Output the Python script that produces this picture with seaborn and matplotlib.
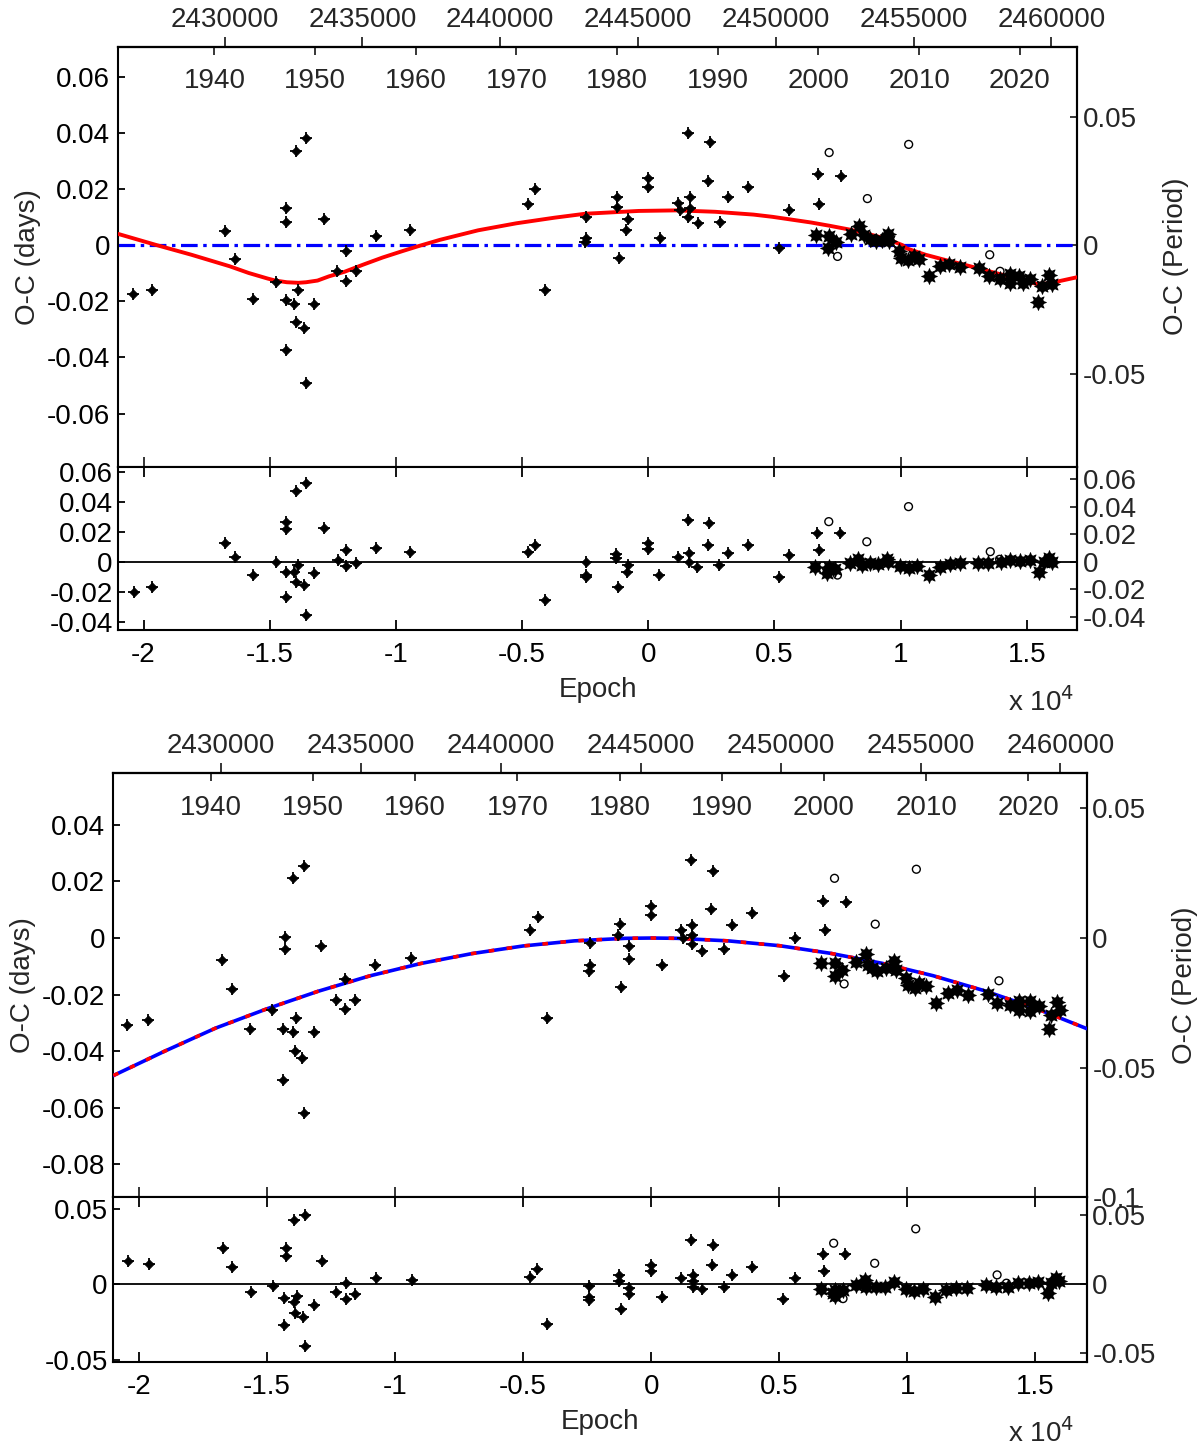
import numpy as np
import pandas as pd
import matplotlib
matplotlib.use("Agg")
import matplotlib.pyplot as plt
import seaborn as sns
from matplotlib.ticker import FuncFormatter, FixedLocator

# ---------------- ephemeris used for the secondary axes ----------------
T0 = 2445370.0
PER = 0.9157

# ---------------- TOP PANEL : O-C with LTTE fit ----------------
top_dia_E = [-20409, -19667, -16773, -16379, -15667, -14742, -14348, -14348, -14348, -14348,
             -13970, -13561, -13879, -14030, -13970, -13636, -13561, -13242, -12833, -12318,
             -11970, -11970, -11591, -10803, -9424, -4773, -4500, -4091, -2470, -2470, -2500,
             -1258, -1258, -1167, -803, -864, 0, 0, 455, 1182, 1258, 1591, 1636, 1636, 1591,
             1985, 2379, 2439, 2833, 3167, 3955, 5197, 5591, 6712, 6773, 7621]
top_dia_v = [-0.0173, -0.0161, 0.0051, -0.0049, -0.0191, -0.0132, 0.0131, 0.0083, -0.0196, -0.0373,
             0.0336, 0.0382, -0.0161, -0.0208, -0.0273, -0.0296, -0.0490, -0.0208, 0.0095, -0.0091,
             -0.0020, -0.0126, -0.0091, 0.0031, 0.0054, 0.0148, 0.0201, -0.0161, 0.0101, 0.0025, 0.0011,
             0.0172, 0.0136, -0.0044, 0.0095, 0.0055, 0.0239, 0.0207, 0.0027, 0.0151, 0.0125, 0.0401,
             0.0172, 0.0133, 0.0101, 0.0079, 0.0230, 0.0366, 0.0083, 0.0173, 0.0207, -0.0011, 0.0125,
             0.0254, 0.0148, 0.0248]
top_circ_E = [7167, 7500, 8682, 10318, 13530, 13939]
top_circ_v = [0.0330, -0.0040, 0.0166, 0.0359, -0.0034, -0.0093]
top_ccd_E = [6636, 7167, 7121, 7424, 8030, 8348, 8561, 8788, 9015, 9242, 9500, 9545, 9924, 10000,
             10303, 10530, 10727, 11106, 11561, 11924, 12348, 13106, 13485, 13939, 14318, 14318,
             14697, 14848, 15106, 15455, 15606, 15864, 15985]
top_ccd_v = [0.0036, 0.0031, -0.0011, 0.0011, 0.0040, 0.0069, 0.0036, 0.0022, 0.0015, 0.0019, 0.0040,
             0.0015, -0.0020, -0.0044, -0.0052, -0.0040, -0.0049, -0.0111, -0.0075, -0.0066, -0.0079,
             -0.0081, -0.0111, -0.0119, -0.0102, -0.0134, -0.0111, -0.0134, -0.0122, -0.0202, -0.0146,
             -0.0107, -0.0138]
top_fit_E = [-21000, -19470, -18106, -16590, -15833, -15076, -14773, -14318, -13864, -13561,
             -13106, -12652, -12045, -11288, -10530, -9773, -9167, -8258, -7500, -6742, -5227,
             -3712, -2500, -379, 1136, 2652, 4167, 4924, 6439, 7197, 7955, 8712, 9470, 10075,
             10227, 10985, 11742, 12500, 13258, 14015, 14773, 15379, 15985, 16288, 17000]
top_fit_v = [0.0040, 0.0000, -0.0034, -0.0075, -0.0099, -0.0119, -0.0126, -0.0132, -0.0134, -0.0132,
             -0.0126, -0.0111, -0.0095, -0.0069, -0.0044, -0.0022, -0.0005, 0.0019, 0.0036, 0.0053,
             0.0078, 0.0098, 0.0112, 0.0122, 0.0124, 0.0119, 0.0109, 0.0101, 0.0081, 0.0069, 0.0056,
             0.0040, 0.0022, 0.0000, -0.0011, -0.0034, -0.0052, -0.0069, -0.0087, -0.0105, -0.0122,
             -0.0138, -0.0136, -0.0128, -0.0114]

# top residuals
topr_dia_E = [-20396, -19670, -16782, -16373, -15674, -14750, -14355, -14355, -14355, -14355,
              -14025, -13959, -13563, -13893, -13959, -13629, -13563, -13233, -12838, -12310,
              -11980, -11980, -11585, -10807, -9422, -4766, -4502, -4107, -2457, -2457, -2470,
              -1282, -1282, -1190, -859, -793, -26, -26, 436, 1190, 1560, 1626, 1626, 1943,
              2353, 2419, 2816, 3146, 3940, 5169, 5579, 6703, 6755, 7615]
topr_dia_v = [-0.0200, -0.0167, 0.0122, 0.0033, -0.0089, 0.0000, 0.0267, 0.0218, -0.0067, -0.0233,
              -0.0067, 0.0473, 0.0522, -0.0022, -0.0133, -0.0156, -0.0356, -0.0078, 0.0222, 0.0011,
              0.0078, -0.0027, -0.0011, 0.0089, 0.0067, 0.0067, 0.0111, -0.0256, 0.0000, -0.0100, -0.0089,
              0.0051, 0.0022, -0.0167, -0.0067, -0.0022, 0.0122, 0.0082, -0.0089, 0.0029, 0.0278,
              0.0056, -0.0004, -0.0033, 0.0111, 0.0256, -0.0022, 0.0056, 0.0111, -0.0100, 0.0044,
              0.0189, 0.0078, 0.0189]
topr_circ_E = [7152, 7496, 8659, 10312, 13551, 13921]
topr_circ_v = [0.0267, -0.0089, 0.0133, 0.0367, 0.0067, 0.0016]
topr_ccd_E = [6623, 7073, 7152, 7403, 7998, 8329, 8461, 8791, 9122, 9452, 9500, 9981, 10312, 10642,
              11105, 11568, 11938, 12361, 13049, 13446, 13974, 14344, 14740, 15110, 15467, 15665,
              15864, 15996]
topr_ccd_v = [-0.0033, -0.0078, -0.0038, -0.0051, -0.0011, 0.0016, -0.0022, -0.0011, -0.0016, 0.0016,
              0.0000, -0.0029, -0.0044, -0.0029, -0.0089, -0.0038, -0.0016, -0.0007, -0.0007, -0.0011,
              0.0000, 0.0011, 0.0007, 0.0011, -0.0067, 0.0000, 0.0022, 0.0000]

# ---------------- BOTTOM PANEL : O-C with quadratic fit ----------------
bot_dia_E = [-20450, -19655, -16760, -16385, -15650, -14795, -14300, -14300, -14360, -14360,
             -14000, -13550, -13880, -13985, -13925, -13625, -13550, -13175, -12875, -12320,
             -11960, -11960, -11570, -10775, -9365, -4730, -4430, -4055, -2405, -2405, -2440,
             -1230, -1305, -1170, -855, -855, 0, 0, 435, 1170, 1245, 1545, 1605, 1605, 1605,
             1965, 2340, 2400, 2835, 3150, 3945, 5175, 5610, 6720, 6795, 7590]
bot_dia_v = [-0.0306, -0.0289, -0.0079, -0.0179, -0.0323, -0.0255, 0.0005, -0.0039, -0.0323, -0.0500,
             0.0211, 0.0255, -0.0283, -0.0333, -0.0400, -0.0423, -0.0617, -0.0333, -0.0029, -0.0218,
             -0.0143, -0.0250, -0.0218, -0.0095, -0.0072, 0.0027, 0.0076, -0.0283, -0.0018, -0.0094, -0.0118,
             0.0049, 0.0011, -0.0172, -0.0029, -0.0073, 0.0112, 0.0082, -0.0095, 0.0027, 0.0000, 0.0276,
             0.0045, 0.0012, -0.0021, -0.0045, 0.0103, 0.0238, -0.0039, 0.0045, 0.0088, -0.0134, 0.0000,
             0.0132, 0.0027, 0.0127]
bot_circ_E = [7155, 7530, 8745, 10350, 13575]
bot_circ_v = [0.0211, -0.0162, 0.0049, 0.0243, -0.0151]
bot_ccd_E = [6645, 7155, 7155, 7455, 7995, 8370, 8475, 8625, 8805, 9150, 9495, 9555, 9945, 10020,
             10305, 10470, 10725, 11100, 11595, 11925, 12375, 13155, 13500, 14000, 14355, 14355,
             14775, 14775, 15150, 15525, 15600, 15825, 15975]
bot_ccd_v = [-0.0088, -0.0088, -0.0135, -0.0112, -0.0085, -0.0055, -0.0094, -0.0106, -0.0115, -0.0106,
             -0.0082, -0.0112, -0.0141, -0.0165, -0.0176, -0.0159, -0.0171, -0.0229, -0.0194, -0.0182,
             -0.0200, -0.0198, -0.0229, -0.0235, -0.0221, -0.0256, -0.0223, -0.0259, -0.0241, -0.0323,
             -0.0273, -0.0226, -0.0256]
bot_fit_E = [-21000, -19000, -17000, -15000, -13000, -11000, -9000, -7000, -5000, -3000, -1000, 0,
             1000, 3000, 5000, 7000, 9000, 11000, 13000, 15000, 17000]
bot_fit_v = [-0.0486, -0.0400, -0.0318, -0.0250, -0.0188, -0.0134, -0.0090, -0.0055, -0.0028, -0.0010,
             -0.0001, 0.0000, -0.0001, -0.0010, -0.0027, -0.0054, -0.0089, -0.0133, -0.0186, -0.0248,
             -0.0320]

# bottom residuals
botr_dia_E = [-20416, -19610, -16722, -16357, -15629, -14757, -14276, -14276, -14328, -14328,
              -13951, -13521, -13846, -13951, -13911, -13586, -13534, -13157, -12845, -12311,
              -11934, -11934, -11570, -10763, -9358, -4752, -4440, -4076, -2437, -2437, -2420,
              -1263, -1263, -1172, -872, -872, -26, -26, 430, 1172, 1536, 1628, 1628, 1628, 1979,
              2357, 2396, 2825, 3138, 3932, 5143, 5599, 6705, 6757, 7565]
botr_dia_v = [0.0157, 0.0135, 0.0238, 0.0113, -0.0053, -0.0011, 0.0238, 0.0188, -0.0093, -0.0269,
              0.0426, 0.0459, -0.0075, -0.0115, -0.0188, -0.0219, -0.0406, -0.0137, 0.0157, -0.0053,
              0.0011, -0.0095, -0.0064, 0.0042, 0.0029, 0.0051, 0.0104, -0.0263, -0.0009, -0.0104, -0.0086,
              0.0062, 0.0024, -0.0166, -0.0022, -0.0064, 0.0128, 0.0091, -0.0086, 0.0040, 0.0294, 0.0062,
              0.0024, -0.0015, -0.0033, 0.0126, 0.0261, -0.0020, 0.0062, 0.0115, -0.0095, 0.0042, 0.0199,
              0.0086, 0.0199]
botr_circ_E = [7122, 7487, 8723, 10325, 13502, 13866]
botr_circ_v = [0.0272, -0.0095, 0.0139, 0.0367, 0.0062, 0.0007]
botr_ccd_E = [6614, 7096, 7161, 7161, 7487, 7981, 8333, 8398, 8762, 9114, 9466, 9960, 10247, 10611,
              11067, 11523, 11887, 12343, 13085, 13450, 13932, 14322, 14752, 15104, 15495, 15624,
              15820, 15924]
botr_ccd_v = [-0.0033, -0.0060, -0.0038, -0.0077, -0.0038, -0.0004, 0.0029, -0.0020, -0.0015, -0.0020,
              0.0018, -0.0033, -0.0044, -0.0033, -0.0086, -0.0038, -0.0026, -0.0022, -0.0004, -0.0020,
              -0.0020, 0.0007, 0.0007, 0.0018, -0.0055, 0.0007, 0.0040, 0.0024]

# ---------------- tick values ----------------
epoch_ticks = [-20000, -15000, -10000, -5000, 0, 5000, 10000, 15000]
jd_ticks = [2430000, 2435000, 2440000, 2445000, 2450000, 2455000, 2460000]
year_ticks = [1940, 1950, 1960, 1970, 1980, 1990, 2000, 2010, 2020]

# ---------------- style ----------------
sns.set_theme(style="white")
plt.rcParams["font.family"] = ["Liberation Sans", "DejaVu Sans"]
plt.rcParams["axes.unicode_minus"] = False
plt.rcParams["axes.linewidth"] = 1.5
plt.rcParams["axes.edgecolor"] = "black"
plt.rcParams["lines.scale_dashes"] = False
FS = 20

fig = plt.figure(figsize=(12, 14.49), dpi=100)
W, H = 1200.0, 1449.0


def box(l, t, r, b):
    return [l / W, 1 - b / H, (r - l) / W, (b - t) / H]


def e2jd(e):
    return T0 + PER * np.asarray(e, dtype=float)


def jd2e(j):
    return (np.asarray(j, dtype=float) - T0) / PER


def e2yr(e):
    return 2000.0 + (T0 + PER * np.asarray(e, dtype=float) - 2451545.0) / 365.25


def yr2e(y):
    return ((np.asarray(y, dtype=float) - 2000.0) * 365.25 + 2451545.0 - T0) / PER


def d2p(v):
    return np.asarray(v, dtype=float) / PER


def p2d(v):
    return np.asarray(v, dtype=float) * PER


gfmt = FuncFormatter(lambda v, p: ("%g" % round(v, 4)))


def draw_points(ax, dE, dv, cE, cv, sE, sv):
    sns.scatterplot(x=dE, y=dv, ax=ax, marker="D", s=22, color="black", edgecolor="black",
                    linewidth=0.5, zorder=5)
    sns.scatterplot(x=dE, y=dv, ax=ax, marker="+", s=70, color="black", linewidth=1.3, zorder=5)
    sns.scatterplot(x=cE, y=cv, ax=ax, marker="o", s=32, facecolor="none", edgecolor="black",
                    linewidth=1.0, zorder=5)
    sns.scatterplot(x=sE, y=sv, ax=ax, marker=(8, 1, 0), s=130, color="black", edgecolor="black",
                    linewidth=0.6, zorder=6)
    sns.scatterplot(x=sE, y=sv, ax=ax, marker="o", s=55, color="black", edgecolor="black",
                    linewidth=0.5, zorder=6)


def style_main(ax, ylim, yticks, rticks):
    ax.set_xlim(-21000, 17000)
    ax.set_ylim(*ylim)
    ax.set_yticks(yticks)
    ax.yaxis.set_major_formatter(gfmt)
    ax.xaxis.set_major_locator(FixedLocator(epoch_ticks))
    ax.tick_params(axis="x", which="both", direction="in", bottom=True, top=False,
                   labelbottom=False, length=7, width=1.3)
    ax.tick_params(axis="y", which="both", direction="in", left=True, right=False,
                   length=5, width=1.3, labelsize=FS, pad=6, colors="black")
    ax.set_ylabel("O-C (days)", fontsize=FS, labelpad=4)
    ax.set_xlabel("")
    for s in ax.spines.values():
        s.set_linewidth(1.5)
        s.set_color("black")
    # right period axis
    ra = ax.secondary_yaxis("right", functions=(d2p, p2d))
    ra.set_yticks(rticks)
    ra.yaxis.set_major_formatter(gfmt)
    ra.tick_params(direction="in", length=5, width=1.3, labelsize=FS, pad=4)
    ra.set_ylabel("O-C (Period)", fontsize=FS, labelpad=12)
    ra.spines["right"].set_linewidth(1.5)
    # top JD axis
    ja = ax.secondary_xaxis("top", functions=(e2jd, jd2e))
    ja.xaxis.set_major_locator(FixedLocator(jd_ticks))
    ja.xaxis.set_major_formatter(FuncFormatter(lambda v, p: "%d" % round(v)))
    ja.tick_params(direction="out", length=7, width=1.3, labelsize=FS, pad=3)
    ja.spines["top"].set_linewidth(1.5)
    # year axis (inside)
    ya = ax.secondary_xaxis("top", functions=(e2yr, yr2e))
    ya.xaxis.set_major_locator(FixedLocator(year_ticks))
    ya.xaxis.set_major_formatter(FuncFormatter(lambda v, p: "%d" % round(v)))
    ya.tick_params(direction="in", length=6, width=1.3, labelsize=FS, pad=-34)
    ya.spines["top"].set_linewidth(1.5)


def style_res(ax, ylim, yticks, rticks, off_y):
    ax.set_xlim(-21000, 17000)
    ax.set_ylim(*ylim)
    ax.set_yticks(yticks)
    ax.yaxis.set_major_formatter(gfmt)
    ax.xaxis.set_major_locator(FixedLocator(epoch_ticks))
    ax.xaxis.set_major_formatter(FuncFormatter(lambda v, p: "%g" % (v / 1e4)))
    ax.tick_params(axis="x", which="both", direction="in", bottom=True, top=True,
                   length=7, width=1.3, labelsize=FS, pad=9, colors="black")
    ax.tick_params(axis="y", which="both", direction="in", left=True, right=False,
                   length=5, width=1.3, labelsize=FS, pad=4, colors="black")
    ax.set_xlabel("Epoch", fontsize=FS, labelpad=6)
    ax.set_ylabel("")
    for s in ax.spines.values():
        s.set_linewidth(1.5)
        s.set_color("black")
    ra = ax.secondary_yaxis("right", functions=(d2p, p2d))
    ra.set_yticks(rticks)
    ra.yaxis.set_major_formatter(gfmt)
    ra.tick_params(direction="in", length=5, width=1.3, labelsize=FS, pad=4)
    ra.spines["right"].set_linewidth(1.5)
    fig.text(1008 / W, 1 - off_y / H, r"x 10$^{4}$", fontsize=FS, ha="left", va="center")


# ================= TOP PANEL =================
ax1 = fig.add_axes(box(118.3, 46.7, 1077.3, 466.7))
ax1.axhline(0, color=(0, 0, 1), lw=2.3, ls=(0, (12, 4, 2.5, 4)), zorder=2)
sns.lineplot(x=top_fit_E, y=top_fit_v, ax=ax1, color=(1, 0, 0), lw=2.8, sort=False,
             estimator=None, zorder=3)
draw_points(ax1, top_dia_E, top_dia_v, top_circ_E, top_circ_v, top_ccd_E, top_ccd_v)
style_main(ax1, (-0.0789, 0.0707), [-0.06, -0.04, -0.02, 0, 0.02, 0.04, 0.06], [-0.05, 0, 0.05])

ax2 = fig.add_axes(box(118.3, 466.7, 1077.3, 630.0))
ax2.axhline(0, color="black", lw=1.3, zorder=2)
draw_points(ax2, topr_dia_E, topr_dia_v, topr_circ_E, topr_circ_v, topr_ccd_E, topr_ccd_v)
style_res(ax2, (-0.0455, 0.0633), [-0.04, -0.02, 0, 0.02, 0.04, 0.06],
          [-0.04, -0.02, 0, 0.02, 0.04, 0.06], 702)

# ================= BOTTOM PANEL =================
ax3 = fig.add_axes(box(113.3, 773.3, 1086.7, 1197.3))
sns.lineplot(x=bot_fit_E, y=bot_fit_v, ax=ax3, color=(0, 0, 1), lw=2.6, sort=False,
             estimator=None, zorder=3)
sns.lineplot(x=bot_fit_E, y=bot_fit_v, ax=ax3, color=(1, 0, 0), lw=2.6, sort=False,
             estimator=None, zorder=3, dashes=False, linestyle=(0, (4, 9)))
draw_points(ax3, bot_dia_E, bot_dia_v, bot_circ_E, bot_circ_v, bot_ccd_E, bot_ccd_v)
style_main(ax3, (-0.0916, 0.0582), [-0.08, -0.06, -0.04, -0.02, 0, 0.02, 0.04],
           [-0.1, -0.05, 0, 0.05])

ax4 = fig.add_axes(box(113.3, 1197.3, 1086.7, 1361.7))
ax4.axhline(0, color="black", lw=1.3, zorder=2)
draw_points(ax4, botr_dia_E, botr_dia_v, botr_circ_E, botr_circ_v, botr_ccd_E, botr_ccd_v)
style_res(ax4, (-0.0513, 0.0576), [-0.05, 0, 0.05], [-0.05, 0, 0.05], 1433)

for a in (ax1, ax2, ax3, ax4):
    leg = a.get_legend()
    if leg is not None:
        leg.remove()

fig.savefig("out.png", dpi=100, facecolor="white")
